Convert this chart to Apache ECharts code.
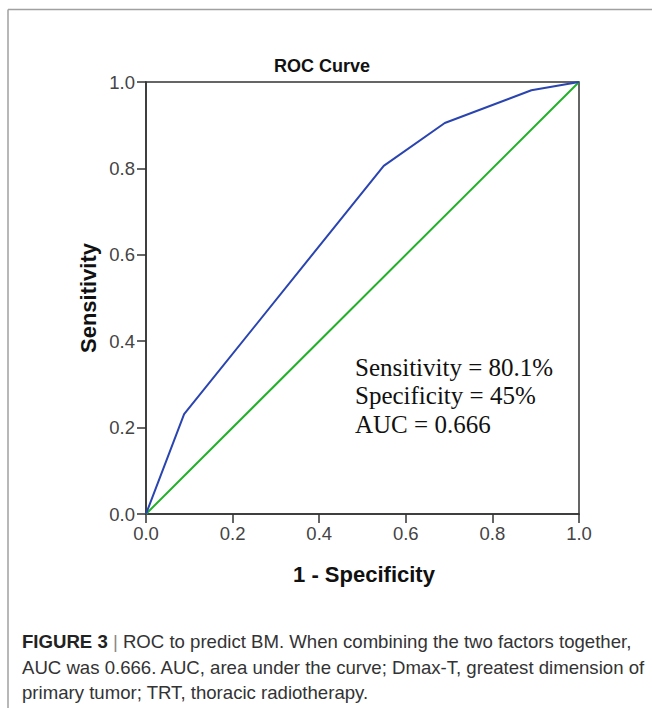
<!DOCTYPE html>
<html>
<head>
<meta charset="utf-8">
<script src="https://cdn.jsdelivr.net/npm/echarts@6/dist/echarts.min.js"></script>
<style>
html,body{margin:0;padding:0;background:#fff;}
#chart{width:652px;height:708px;}
</style>
</head>
<body>
<div id="chart"></div>
<script>
// ROC curve points (1 - Specificity, Sensitivity)
const rocFpr = [0, 0.088, 0.549, 0.690, 0.890, 1.0];
const rocTpr = [0, 0.231, 0.806, 0.905, 0.981, 1.0];
// Reference (chance) line
const refFpr = [0, 1];
const refTpr = [0, 1];
const tickLabels = ['0.0', '0.2', '0.4', '0.6', '0.8', '1.0'];
const annotationLines = ['Sensitivity = 80.1%', 'Specificity = 45%', 'AUC = 0.666'];
const captionLines = [
  ' ROC to predict BM. When combining the two factors together,',
  'AUC was 0.666. AUC, area under the curve; Dmax-T, greatest dimension of',
  'primary tumor; TRT, thoracic radiotherapy.'
];

const chart = echarts.init(document.getElementById('chart'), null, {renderer: 'svg'});
const sans = '"Liberation Sans", Arial, sans-serif';
const serif = '"Liberation Serif", "Times New Roman", serif';
const fmt = v => tickLabels[Math.round(v * 5)];

const option = {
  animation: false,
  backgroundColor: '#ffffff',
  grid: {left: 146, top: 82, width: 433, height: 432, show: true, borderColor: '#333', borderWidth: 1.5, backgroundColor: 'transparent'},
  xAxis: {
    type: 'value', min: 0, max: 1, interval: 0.2,
    axisLine: {show: true, lineStyle: {color: '#333', width: 1.5}},
    axisTick: {show: true, inside: false, length: 9, lineStyle: {color: '#333', width: 1.5}},
    splitLine: {show: false},
    axisLabel: {formatter: fmt, fontFamily: sans, fontSize: 18.5, color: '#444', margin: 10}
  },
  yAxis: {
    type: 'value', min: 0, max: 1, interval: 0.2,
    axisLine: {show: true, lineStyle: {color: '#333', width: 1.5}},
    axisTick: {show: true, inside: false, length: 9, lineStyle: {color: '#333', width: 1.5}},
    splitLine: {show: false},
    axisLabel: {formatter: fmt, fontFamily: sans, fontSize: 18.5, color: '#444', margin: 11}
  },
  series: [
    {
      type: 'line', name: 'Reference', symbol: 'none',
      data: refFpr.map((x, i) => [x, refTpr[i]]),
      lineStyle: {color: '#22b02a', width: 2}
    },
    {
      type: 'line', name: 'ROC', symbol: 'none',
      data: rocFpr.map((x, i) => [x, rocTpr[i]]),
      lineStyle: {color: '#2a44b0', width: 2}
    }
  ],
  graphic: [
    {type: 'line', shape: {x1: 8, y1: 9.5, x2: 652, y2: 9.5}, style: {stroke: '#a0a0a0', lineWidth: 1.5}},
    {type: 'line', shape: {x1: 8, y1: 9.5, x2: 8, y2: 708}, style: {stroke: '#a0a0a0', lineWidth: 1.5}},
    {type: 'text', x: 322, y: 66, style: {text: 'ROC Curve', font: 'bold 18px ' + sans, fill: '#111', textAlign: 'center', textVerticalAlign: 'middle'}},
    {type: 'text', x: 364, y: 574, style: {text: '1 - Specificity', font: 'bold 22px ' + sans, fill: '#111', textAlign: 'center', textVerticalAlign: 'middle'}},
    {type: 'text', x: 88, y: 298, rotation: Math.PI / 2, style: {text: 'Sensitivity', font: 'bold 22px ' + sans, fill: '#111', textAlign: 'center', textVerticalAlign: 'middle'}},
    {type: 'text', x: 355, y: 367, style: {text: annotationLines[0], font: '25px ' + serif, fill: '#111', textAlign: 'left', textVerticalAlign: 'middle'}},
    {type: 'text', x: 355, y: 395.5, style: {text: annotationLines[1], font: '25px ' + serif, fill: '#111', textAlign: 'left', textVerticalAlign: 'middle'}},
    {type: 'text', x: 355, y: 424, style: {text: annotationLines[2], font: '25px ' + serif, fill: '#111', textAlign: 'left', textVerticalAlign: 'middle'}},
    {type: 'text', x: 22, y: 641, style: {
      text: '{b|FIGURE 3} {p||}' + captionLines[0],
      font: '18.6px ' + sans, fill: '#333', textAlign: 'left', textVerticalAlign: 'middle',
      rich: {b: {fontWeight: 'bold', fontFamily: sans, fontSize: 18.6, fill: '#222', color: '#222'}, p: {fontFamily: sans, fontSize: 18.6, fill: '#888', color: '#888'}}
    }},
    {type: 'text', x: 22, y: 667, style: {text: captionLines[1], font: '18.6px ' + sans, fill: '#333', textAlign: 'left', textVerticalAlign: 'middle'}},
    {type: 'text', x: 22, y: 692, style: {text: captionLines[2], font: '18.6px ' + sans, fill: '#333', textAlign: 'left', textVerticalAlign: 'middle'}}
  ]
};
chart.setOption(option);
</script>
</body>
</html>
